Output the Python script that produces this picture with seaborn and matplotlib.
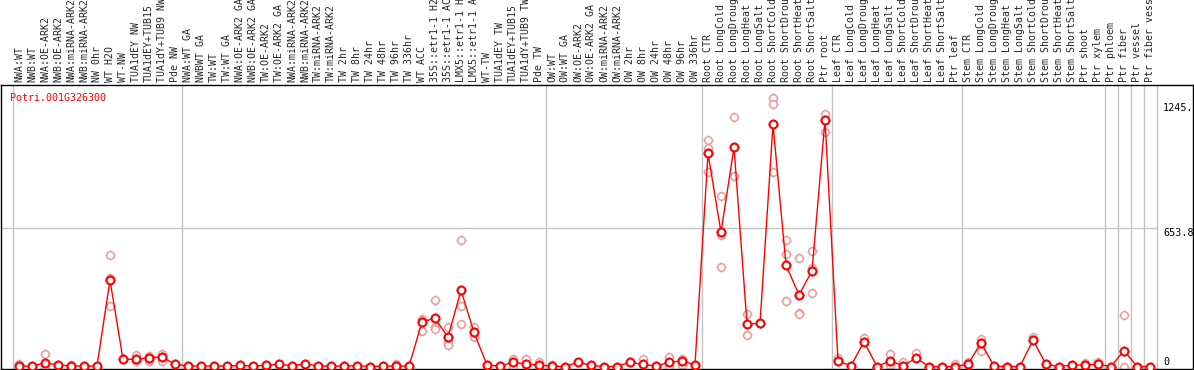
import matplotlib
matplotlib.use("Agg")
import matplotlib.pyplot as plt
import seaborn as sns
import numpy as np

gene = "Potri.001G326300"

labels = [
    "NWA:WT", "NWB:WT", "NWA:OE-ARK2", "NWB:OE-ARK2", "NWA:miRNA-ARK2",
    "NWB:miRNA-ARK2", "NW 0hr", "WT H2O", "WT-NW", "TUA1dEY NW",
    "TUA1dEY+TUB15", "TUA1dY+TUB9 NW", "Pde NW",
    "NWA:WT GA", "NWBWT GA", "TW:WT", "TW:WT GA", "NWA:OE-ARK2 GA",
    "NWB:OE-ARK2 GA", "TW:OE-ARK2", "TW:OE-ARK2 GA", "NWA:miRNA-ARK2",
    "NWB:miRNA-ARK2", "TW:miRNA-ARK2", "TW:miRNA-ARK2", "TW 2hr", "TW 8hr",
    "TW 24hr", "TW 48hr", "TW 96hr", "TW 336hr", "WT ACC", "35S::etr1-1 H2O",
    "35S::etr1-1 ACC", "LMX5::etr1-1 H2O", "LMX5::etr1-1 ACC", "WT-TW",
    "TUA1dEY TW", "TUA1dEY+TUB15", "TUA1dY+TUB9 TW", "Pde TW",
    "OW:WT", "OW:WT GA", "OW:OE-ARK2", "OW:OE-ARK2 GA", "OW:miRNA-ARK2",
    "OW:miRNA-ARK2", "OW 2hr", "OW 8hr", "OW 24hr", "OW 48hr", "OW 96hr",
    "OW 336hr",
    "Root CTR", "Root LongCold", "Root LongDrought", "Root LongHeat",
    "Root LongSalt", "Root ShortCold", "Root ShortDrought", "Root ShortHeat",
    "Root ShortSalt", "Ptr root",
    "Leaf CTR", "Leaf LongCold", "Leaf LongDrought", "Leaf LongHeat",
    "Leaf LongSalt", "Leaf ShortCold", "Leaf ShortDrought", "Leaf ShortHeat",
    "Leaf ShortSalt", "Ptr leaf",
    "Stem CTR", "Stem LongCold", "Stem LongDrought", "Stem LongHeat",
    "Stem LongSalt", "Stem ShortCold", "Stem ShortDrought", "Stem ShortHeat",
    "Stem ShortSalt", "Ptr shoot",
    "Ptr xylem", "Ptr phloem", "Ptr fiber", "Ptr vessel", "Ptr fiber vessel",
]

means = [
    2, 2, 18, 7, 3, 2, 3, 408, 34, 34, 42, 46, 10,
    3, 2, 3, 2, 5, 2, 6, 10, 4, 12, 3, 2, 2, 4, 0, 2, 2, 2,
    210, 228, 138, 360, 161, 7, 2, 20, 12, 7,
    2, 0, 20, 6, 0, 0, 20, 10, 2, 20, 26, 8,
    1006, 634, 1035, 201, 204, 1143, 479, 338, 451, 1164,
    26, 3, 117, 0, 26, 4, 39, 0, 0, 0,
    10, 112, 2, 0, 0, 125, 10, 0, 7, 7,
    10, 0, 75, 0, 0,
]

rep_idx = [0, 2, 2, 4, 7, 7, 7, 9, 9, 10, 10, 11, 11, 29,
           31, 31, 31, 32, 32, 32, 33, 33, 33, 34, 34, 34, 35, 35,
           38, 38, 39, 40, 41, 48, 50, 50, 51, 51,
           53, 53, 53, 54, 54, 54, 55, 55, 56, 56, 57, 58, 58, 58,
           59, 59, 59, 60, 60, 60, 61, 61, 61, 62, 62,
           63, 65, 67, 67, 68, 69, 72, 73, 74, 74, 78, 82, 83, 85, 85]
rep_val = [12, 58, 0, 8, 526, 416, 286, 54, 26, 50, 26, 59, 26, 10,
           226, 168, 220, 314, 188, 176, 188, 117, 101, 597, 286, 199, 188, 141,
           34, 2, 37, 20, 7, 34, 46, 4, 36, 5,
           1069, 1030, 917, 805, 621, 468, 1177, 899, 248, 149, 207, 1266, 1238, 920,
           597, 530, 309, 511, 254, 246, 545, 467, 346, 1191, 1109,
           42, 133, 58, 7, 20, 62, 10, 22, 128, 75, 141, 18, 23, 243, 0]

group_edges = [-0.5, 12.5, 40.5, 52.5, 62.5, 72.5, 83.5, 84.5, 85.5, 86.5, 87.5]
ytick_vals = [1245, 653.8, 0]
ytick_text = ["1245.", "653.8", "0"]

sns.set_style("white")
plt.rcParams["font.family"] = ["DejaVu Sans Mono", "DejaVu Sans"]

fig = plt.figure(figsize=(11.94, 3.70), dpi=100)
ax = fig.add_axes([1 / 1194, 1 / 370, 1192 / 1194, 284 / 370])

x = np.arange(len(means))
mean_c = "#ff0000"
rep_c = "#ee9a9a"

for e in group_edges:
    ax.axvline(e, color="#c4c4c4", lw=1, zorder=0)
ax.hlines(653.8, -1.5, 87.5, color="#c4c4c4", lw=1, zorder=0)

# replicates
sns.scatterplot(x=rep_idx, y=rep_val, marker="+", s=55, color=rep_c,
                linewidth=1, ax=ax, zorder=2, legend=False)
sns.scatterplot(x=rep_idx, y=rep_val, marker="o", s=30, facecolor="white",
                edgecolor=rep_c, linewidth=1.1, ax=ax, zorder=2, legend=False)

# mean line
sns.lineplot(x=x, y=means, color=mean_c, lw=1, ax=ax, zorder=3)
sns.scatterplot(x=x, y=means, marker="+", s=60, color=mean_c,
                linewidth=1, ax=ax, zorder=4, legend=False)
sns.scatterplot(x=x, y=means, marker="o", s=32, facecolor="white",
                edgecolor=mean_c, linewidth=1.5, ax=ax, zorder=5, legend=False)

ax.set_xlim((1 - 19) / 13, (1193 - 19) / 13)
ax.set_ylim(-11.8, 1329)

ax.set_xticks(x)
ax.set_xticklabels(labels, rotation=90, fontsize=7.1)
ax.xaxis.tick_top()
ax.tick_params(axis="x", length=0, pad=2)
ax.set_yticks([])
ax.set_ylabel("")

for v, t in zip(ytick_vals, ytick_text):
    ax.text(88.0, v, t, fontsize=7.3, ha="left",
            va="bottom" if v == 0 else "top", color="black")

ax.text(0.0075, 0.955, gene, transform=ax.transAxes, color=mean_c,
        fontsize=7.2, ha="left", va="center")

for s in ax.spines.values():
    s.set_color("black")
    s.set_linewidth(1)

fig.savefig("out.png", dpi=100)
